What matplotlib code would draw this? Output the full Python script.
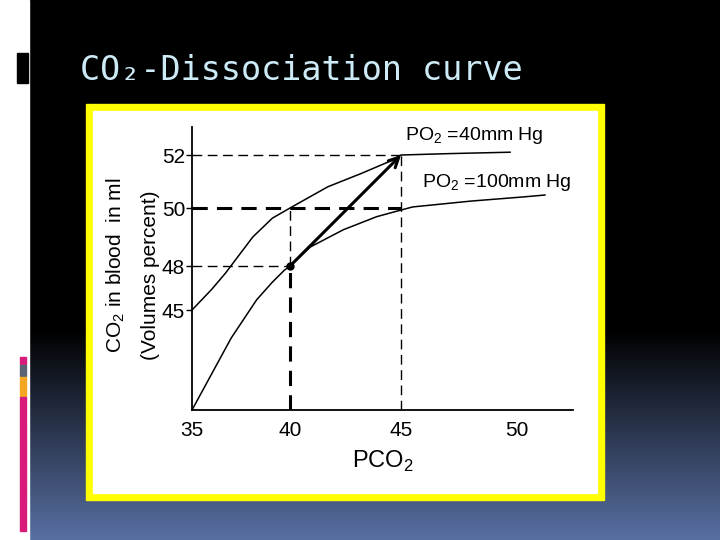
import numpy as np
import matplotlib
matplotlib.use("Agg")
import matplotlib.pyplot as plt
from matplotlib.patches import Rectangle

plt.rcParams['mathtext.fontset'] = 'custom'
plt.rcParams['mathtext.rm'] = 'Liberation Sans'
SANS = ['Liberation Sans', 'DejaVu Sans']

# CO2 content (vol %) vs PCO2 (mm Hg)
pco2_po2_40 = [35.0, 36.0, 36.7, 38.1, 39.1, 40.0, 41.7, 43.2, 44.6, 45.0, 47.1, 49.7]
co2_po2_40 = [45.0, 46.4, 47.5, 49.0, 49.65, 50.0, 50.8, 51.3, 51.8, 52.0, 52.05, 52.1]
pco2_po2_100 = [35.0, 37.0, 38.3, 39.1, 39.7, 40.0, 40.9, 42.4, 43.9, 45.0, 45.5, 48.0, 50.3, 51.2]
co2_po2_100 = [40.0, 43.6, 45.7, 46.9, 47.7, 48.0, 48.65, 49.25, 49.7, 49.93, 50.04, 50.26, 50.42, 50.49]

x_ticks = [35, 40, 45, 50]
y_ticks = [45, 48, 50, 52]
arterial = (40, 48)   # PO2 100, PCO2 40
venous = (45, 52)     # PO2 40, PCO2 45
mid_level = 50

# the hand drawn axes are not linear: knots -> pixel offsets
x_knots = [30, 35, 40, 45, 50, 55]
x_pos = [94, 192, 290, 401, 517, 633]
y_knots = [35, 40, 45, 48, 50, 52, 53, 58]
y_pos = [-100, 0, 100, 144, 202, 255, 283, 423]

fig = plt.figure(figsize=(7.2, 5.4), dpi=100)

# slide background
bg = fig.add_axes([0, 0, 1, 1])
bg.set_xlim(0, 720)
bg.set_ylim(540, 0)
bg.axis('off')
bg.add_patch(Rectangle((0, 0), 29, 540, color='white'))
grad = np.zeros((540, 1, 3))
t = np.clip((np.arange(540) - 330) / 210.0, 0, 1)
grad[:, 0, 0] = t * 0.35
grad[:, 0, 1] = t * 0.44
grad[:, 0, 2] = t * 0.64
bg.imshow(grad, extent=[29, 720, 540, 0], aspect='auto', interpolation='bilinear')
bg.add_patch(Rectangle((17, 53), 11, 30, color='black'))
for y0, h, c in [(357, 7, '#d81b7a'), (365, 11, '#5a6373'), (377, 19, '#f5a623'), (397, 134, '#d81b7a')]:
    bg.add_patch(Rectangle((20, y0), 6, h, color=c))
bg.add_patch(Rectangle((86, 104), 518, 396, color='#ffff00'))
bg.add_patch(Rectangle((93, 111), 504, 382, color='white'))
bg.text(80, 80, 'CO₂-Dissociation curve', color='#cdeaf7', fontsize=24,
        family='DejaVu Sans Mono', va='baseline', ha='left')

# chart
ax = fig.add_axes([192 / 720, 130 / 540, 381 / 720, 283 / 540])
ax.set_facecolor('none')
ax.set_xscale('function', functions=(lambda v: np.interp(v, x_knots, x_pos),
                                     lambda v: np.interp(v, x_pos, x_knots)))
ax.set_yscale('function', functions=(lambda v: np.interp(v, y_knots, y_pos),
                                     lambda v: np.interp(v, y_pos, y_knots)))
ax.set_xlim(35, 52.41)
ax.set_ylim(40, 53)

thin = dict(color='black', lw=1.0, ls=(0, (7, 4)))
thick = dict(color='black', lw=2.2, ls=(0, (5, 3)))
ax.hlines(venous[1], x_ticks[0], venous[0], **thin)
ax.hlines(mid_level, x_ticks[0], venous[0], **thick)
ax.hlines(arterial[1], x_ticks[0], arterial[0], **thin)
ax.vlines(venous[0], 40, venous[1], **thin)
ax.vlines(arterial[0], arterial[1], mid_level, **thin)
ax.vlines(arterial[0], 40, arterial[1], **thick)

ax.plot(pco2_po2_40, co2_po2_40, color='black', lw=1.1)
ax.plot(pco2_po2_100, co2_po2_100, color='black', lw=1.1)
ax.annotate('', xy=venous, xytext=arterial,
            arrowprops=dict(arrowstyle='->,head_length=0.7,head_width=0.35',
                            lw=2.2, color='black', shrinkA=0, shrinkB=0))
ax.plot(*arterial, 'o', ms=5, color='black')

ax.text(45.17, 52.54, 'PO$_\\mathrm{2}$ =40mm Hg', fontsize=14, family=SANS, va='baseline')
ax.text(45.9, 50.79, 'PO$_\\mathrm{2}$ =100mm Hg', fontsize=14, family=SANS, va='baseline')

for s in ['top', 'right']:
    ax.spines[s].set_visible(False)
for s in ['left', 'bottom']:
    ax.spines[s].set_linewidth(1.3)
ax.set_xticks(x_ticks, [str(v) for v in x_ticks])
ax.set_yticks(y_ticks, [str(v) for v in y_ticks])
ax.minorticks_off()
ax.tick_params(axis='x', length=0, pad=8, labelsize=15)
ax.tick_params(axis='y', length=4, width=1, pad=1, labelsize=15)
for lab in ax.get_xticklabels() + ax.get_yticklabels():
    lab.set_family(SANS)

fig.text(383 / 720, 1 - 468 / 540, 'PCO$_\\mathrm{2}$', fontsize=17, family=SANS,
         ha='center', va='baseline')
fig.text(116 / 720, 1 - 265 / 540, 'CO$_\\mathrm{2}$ in blood  in ml', fontsize=15,
         family=SANS, rotation=90, ha='center', va='center')
fig.text(150 / 720, 1 - 275 / 540, '(Volumes percent)', fontsize=15,
         family=SANS, rotation=90, ha='center', va='center')

fig.savefig('out.png', dpi=100)
